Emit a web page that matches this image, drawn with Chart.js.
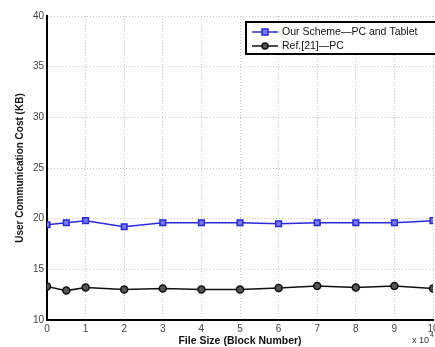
<!DOCTYPE html>
<html>
<head>
<meta charset="utf-8">
<script src="https://cdn.jsdelivr.net/npm/chart.js@4.4.0/dist/chart.umd.min.js"></script>
<style>
  html, body { margin: 0; padding: 0; background: #fff; overflow: hidden; }
  #wrap { width: 460px; height: 347px; }
</style>
</head>
<body>
<div id="wrap"><canvas id="myChart" width="460" height="347"></canvas></div>
<script>
// file size in units of 10^4 blocks
const fileSize = [0, 0.5, 1, 2, 3, 4, 5, 6, 7, 8, 9, 10];
const ourScheme = [19.4, 19.6, 19.8, 19.2, 19.6, 19.6, 19.6, 19.5, 19.6, 19.6, 19.6, 19.8];
const ref21 = [13.3, 12.9, 13.2, 13.0, 13.1, 13.0, 13.0, 13.15, 13.35, 13.2, 13.35, 13.1];
const yTicks = [10, 15, 20, 25, 30, 35, 40];
const xTicks = [0, 1, 2, 3, 4, 5, 6, 7, 8, 9, 10];

const FONT = 'Liberation Sans, Arial, sans-serif';

const boxLegend = {
  id: 'boxLegend',
  afterDraw(chart) {
    const ctx = chart.ctx;
    const x0 = 246, y0 = 22, w = 210, h = 32;
    ctx.save();
    ctx.fillStyle = '#fff';
    ctx.fillRect(x0, y0, w, h);
    ctx.strokeStyle = '#000';
    ctx.lineWidth = 2;
    ctx.strokeRect(x0, y0, w, h);
    ctx.font = '10.5px ' + FONT;
    ctx.textBaseline = 'middle';
    chart.data.datasets.forEach((ds, i) => {
      const yy = y0 + 10 + i * 14;
      ctx.strokeStyle = ds.borderColor;
      ctx.lineWidth = 1.5;
      ctx.beginPath();
      ctx.moveTo(252, yy);
      ctx.lineTo(278, yy);
      ctx.stroke();
      ctx.fillStyle = ds.pointBackgroundColor;
      ctx.strokeStyle = ds.borderColor;
      ctx.beginPath();
      if (ds.pointStyle === 'rect') {
        ctx.rect(262, yy - 3, 6, 6);
      } else {
        ctx.arc(265, yy, 3, 0, Math.PI * 2);
      }
      ctx.fill();
      ctx.stroke();
      ctx.fillStyle = '#111';
      ctx.fillText(ds.label, 282, yy + 0.5);
    });
    // x10^4 multiplier
    ctx.fillStyle = '#333';
    ctx.font = '9px ' + FONT;
    ctx.textBaseline = 'alphabetic';
    ctx.fillText('x 10', 412, 343);
    ctx.font = '7px ' + FONT;
    ctx.fillText('4', 430, 337);
    ctx.restore();
  }
};

const data = {
  datasets: [{
    label: 'Our Scheme\u2014PC and Tablet',
    data: fileSize.map((x, i) => ({ x: x, y: ourScheme[i] })),
    borderColor: '#2a2ad6',
    backgroundColor: '#2a2ad6',
    pointBackgroundColor: '#7a7af0',
    pointBorderColor: '#2a2ad6',
    pointStyle: 'rect',
    pointRadius: 4,
    pointBorderWidth: 1.5,
    borderWidth: 1.5
  },
  {
    label: 'Ref.[21]\u2014PC',
    data: fileSize.map((x, i) => ({ x: x, y: ref21[i] })),
    borderColor: '#111',
    backgroundColor: '#111',
    pointBackgroundColor: '#555',
    pointBorderColor: '#111',
    pointStyle: 'circle',
    pointRadius: 3.5,
    pointBorderWidth: 1.5,
    borderWidth: 1.5
  }]
};

const config = {
  type: 'line',
  data,
  options: {
    responsive: false,
    animation: false,
    layout: { padding: { left: 0, top: 16, right: 27, bottom: 0 } },
    plugins: {
      legend: { display: false },
      tooltip: { enabled: false }
    },
    scales: {
      x: {
        type: 'linear',
        min: 0,
        max: 10,
        afterBuildTicks: (s) => { s.ticks = xTicks.map(v => ({ value: v })); },
        afterFit: (s) => { s.height = 27; },
        grid: { color: '#c4c4c4', drawTicks: false },
        border: { display: true, color: '#000', width: 2, dash: [1, 2] },
        ticks: { color: '#444', font: { family: FONT, size: 10 }, padding: 3 },
        title: { display: true, text: 'File Size (Block Number)', color: '#111',
          font: { family: FONT, size: 10.5, weight: 'bold' }, padding: { top: 1, bottom: 0 } }
      },
      y: {
        min: 10,
        max: 40,
        afterBuildTicks: (s) => { s.ticks = yTicks.map(v => ({ value: v })); },
        afterFit: (s) => { s.width = 47; },
        grid: { color: '#c4c4c4', drawTicks: false },
        border: { display: true, color: '#000', width: 2, dash: [1, 2] },
        ticks: { color: '#444', font: { family: FONT, size: 10 }, padding: 3 },
        title: { display: true, text: 'User Communication Cost (KB)', color: '#111',
          font: { family: FONT, size: 10, weight: 'bold' }, padding: { top: 14, bottom: 4 } }
      }
    }
  },
  plugins: [boxLegend]
};

const myChart = new Chart(document.getElementById('myChart'), config);
</script>
</body>
</html>
